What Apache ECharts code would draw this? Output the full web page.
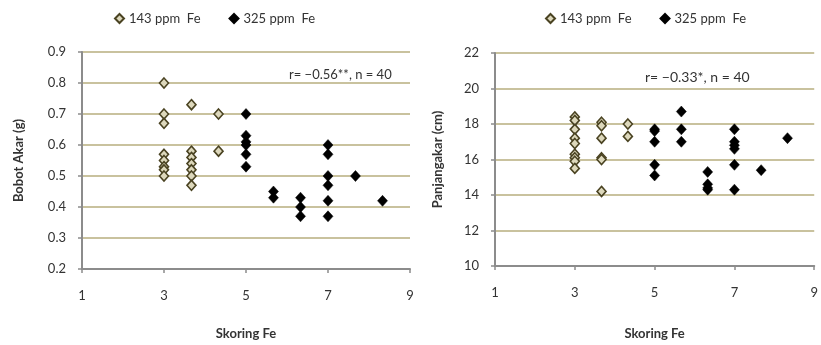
<!DOCTYPE html>
<html>
<head>
<meta charset="utf-8">
<script src="https://cdn.jsdelivr.net/npm/echarts@6/dist/echarts.min.js"></script>
<style>html,body{margin:0;padding:0;background:#fff}#c{width:821px;height:345px}</style>
</head>
<body>
<div id="c"></div>
<script>
const seriesNames = ['143 ppm  Fe', '325 ppm  Fe'];
const xTicks = [1, 3, 5, 7, 9];

// Bobot Akar (g) — 143 ppm Fe
const bobot143X = [3,3,3,3,3,3,3,3, 3.67,3.67,3.67,3.67,3.67,3.67,3.67, 4.33,4.33];
const bobot143Y = [0.80,0.70,0.67,0.57,0.55,0.53,0.52,0.50, 0.73,0.58,0.56,0.54,0.52,0.50,0.47, 0.70,0.58];
// Bobot Akar (g) — 325 ppm Fe
const bobot325X = [5,5,5,5,5,5, 5.67,5.67, 6.33,6.33,6.33, 7,7,7,7,7,7, 7.67, 8.33];
const bobot325Y = [0.70,0.63,0.61,0.60,0.57,0.53, 0.45,0.43, 0.43,0.40,0.37, 0.60,0.57,0.50,0.47,0.42,0.37, 0.50, 0.42];

// Panjang akar (cm) — 143 ppm Fe
const panjang143X = [3,3,3,3,3,3,3,3,3, 3.67,3.67,3.67,3.67,3.67,3.67, 4.33,4.33];
const panjang143Y = [18.4,18.2,17.7,17.2,16.9,16.3,16.1,15.9,15.5, 18.1,17.9,17.2,16.1,16.0,14.2, 18.0,17.3];
// Panjang akar (cm) — 325 ppm Fe
const panjang325X = [5,5,5,5,5, 5.67,5.67,5.67, 6.33,6.33,6.33,6.33, 7,7,7,7,7,7, 7.67, 8.33];
const panjang325Y = [17.7,17.6,17.0,15.7,15.1, 18.7,17.7,17.0, 15.3,14.6,14.4,14.3, 17.7,17.0,16.8,16.6,15.7,14.3, 15.4, 17.2];

const corrLeft = 'r= \u22120.56**, n = 40';
const corrRight = 'r= \u22120.33*, n = 40';

function pairs(xs, ys) { return xs.map((x, i) => [x, ys[i]]); }

const FONT = 'Lato, "Open Sans", sans-serif';
const txt = '#333333';
const gridCol = '#C9C29E';
const axisCol = '#8C8C8C';

function xAx(gi) {
  return {
    type: 'value', gridIndex: gi, min: 1, max: 9, interval: 2,
    name: 'Skoring Fe', nameLocation: 'middle', nameGap: gi === 0 ? 58 : 61,
    nameTextStyle: { fontFamily: FONT, fontSize: 13, fontWeight: 'bold', color: txt },
    axisLine: { show: true, onZero: false, lineStyle: { color: axisCol, width: 2 } },
    axisTick: { show: true, inside: false, length: 4, lineStyle: { color: axisCol, width: 1.5 } },
    axisLabel: { margin: 20, fontFamily: FONT, fontSize: 13, color: txt, showMaxLabel: true,
      formatter: v => xTicks.includes(v) ? String(v) : '' },
    splitLine: { show: false }
  };
}
function yAx(gi, min, max, interval, name, gap, fmt) {
  return {
    type: 'value', gridIndex: gi, min, max, interval,
    name, nameLocation: 'middle', nameGap: gap, nameRotate: 90,
    nameTextStyle: { fontFamily: FONT, fontSize: 13, fontWeight: 'bold', color: txt },
    axisLine: { show: true, lineStyle: { color: axisCol, width: 2 } },
    axisTick: { show: true, inside: false, length: 4, lineStyle: { color: axisCol, width: 1.5 } },
    axisLabel: { margin: 16, fontFamily: FONT, fontSize: 13, color: txt, formatter: fmt },
    splitLine: { show: true, lineStyle: { color: gridCol, width: 2 } }
  };
}

const s143 = { symbol: 'diamond', symbolSize: [9, 10],
  itemStyle: { color: '#DDD8BC', borderColor: '#4A4322', borderWidth: 1.6, opacity: 1 } };
const s325 = { symbol: 'diamond', symbolSize: [10, 11],
  itemStyle: { color: '#000000', borderColor: '#000000', borderWidth: 0.5, opacity: 1 } };

const legendCommon = {
  orient: 'horizontal', top: 7, itemWidth: 9, itemHeight: 9, itemGap: 28,
  textStyle: { fontFamily: FONT, fontSize: 13, color: txt },
  data: [{ name: seriesNames[0], icon: 'diamond' }, { name: seriesNames[1], icon: 'diamond' }]
};

const chart = echarts.init(document.getElementById('c'), null, { renderer: 'canvas' });
chart.setOption({
  animation: false,
  backgroundColor: '#ffffff',
  legend: [
    Object.assign({}, legendCommon, { left: 109 }),
    Object.assign({}, legendCommon, { left: 540 })
  ],
  title: [
    { text: corrLeft, left: 284, top: 63, textStyle: { fontFamily: FONT, fontSize: 13, fontWeight: 'normal', color: txt } },
    { text: corrRight, left: 640, top: 65, textStyle: { fontFamily: FONT, fontSize: 14, fontWeight: 'normal', color: txt } }
  ],
  grid: [
    { left: 82, top: 52, width: 328, height: 222, containLabel: false },
    { left: 495, top: 53, width: 326, height: 215, containLabel: false }
  ],
  xAxis: [xAx(0), xAx(1)],
  yAxis: [
    yAx(0, 0.2, 0.9, 0.1, 'Bobot Akar (g)', 57, v => v.toFixed(1)),
    yAx(1, 10, 22, 2, 'Panjangakar (cm)', 51, v => String(v))
  ],
  series: [
    Object.assign({ type: 'scatter', name: seriesNames[0], xAxisIndex: 0, yAxisIndex: 0, data: pairs(bobot143X, bobot143Y) }, s143),
    Object.assign({ type: 'scatter', name: seriesNames[1], xAxisIndex: 0, yAxisIndex: 0, data: pairs(bobot325X, bobot325Y) }, s325),
    Object.assign({ type: 'scatter', name: seriesNames[0], xAxisIndex: 1, yAxisIndex: 1, data: pairs(panjang143X, panjang143Y) }, s143),
    Object.assign({ type: 'scatter', name: seriesNames[1], xAxisIndex: 1, yAxisIndex: 1, data: pairs(panjang325X, panjang325Y) }, s325)
  ]
});
</script>
</body>
</html>
